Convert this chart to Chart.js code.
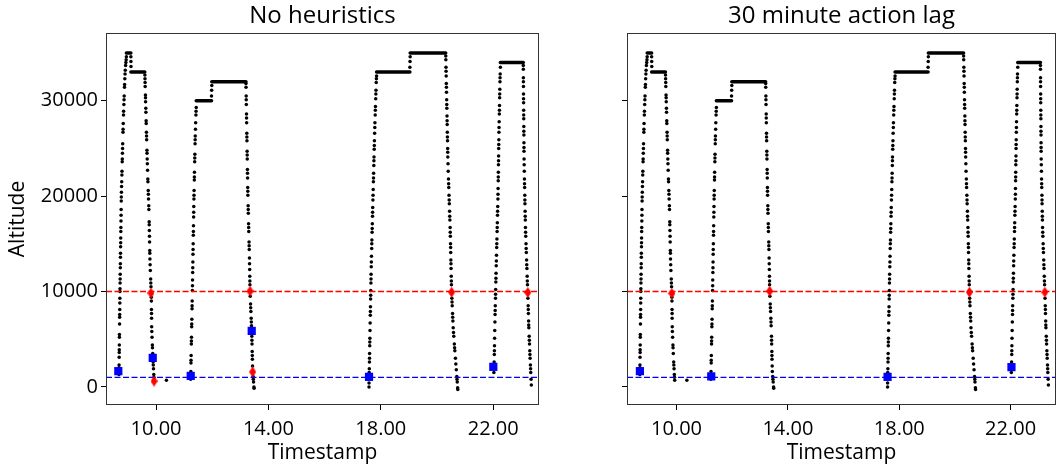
<!DOCTYPE html>
<html>
<head>
<meta charset="utf-8">
<script src="https://cdn.jsdelivr.net/npm/chart.js@4.4.0/dist/chart.umd.min.js"></script>
<style>
  body { margin: 0; background: #fff; }
  #left_chart { position: absolute; left: 0; top: 0; }
  #right_chart { position: absolute; left: 560px; top: 0; }
</style>
</head>
<body>
<canvas id="left_chart" width="545" height="469"></canvas>
<canvas id="right_chart" width="502" height="469"></canvas>
<script>
// flight track samples: [hour of day, altitude]
var climb1 = [[8.680,1300],[8.682,1500],[8.683,1700],[8.684,2000],[8.685,2300],[8.689,3100],[8.691,3600],[8.692,3900],[8.694,4400],[8.697,5200],[8.698,5500],[8.703,6600],[8.706,7300],[8.707,7600],[8.709,8100],[8.712,8800],[8.714,9300],[8.717,10000],[8.718,10300],[8.721,10900],[8.723,11300],[8.725,11800],[8.729,12500],[8.731,12900],[8.734,13600],[8.736,14000],[8.740,14700],[8.742,15100],[8.744,15600],[8.747,16300],[8.749,16700],[8.753,17400],[8.756,18000],[8.758,18600],[8.763,19500],[8.765,19900],[8.769,20400],[8.774,21000],[8.779,21500],[8.785,22200],[8.789,22600],[8.797,23600],[8.800,23900],[8.805,24500],[8.810,25000],[8.814,25500],[8.825,26700],[8.828,27000],[8.833,27600],[8.843,28500],[8.847,28900],[8.856,29600],[8.862,30100],[8.867,30500],[8.878,31400],[8.882,31700],[8.890,32300],[8.898,32800],[8.906,33200],[8.917,33700],[8.928,34000],[8.937,34300],[8.945,34600]];
var descent1 = [[9.604,32700],[9.607,32300],[9.611,31900],[9.614,31500],[9.623,30600],[9.626,30300],[9.629,29900],[9.636,29200],[9.640,28800],[9.648,27900],[9.651,27600],[9.659,26700],[9.663,26300],[9.667,25900],[9.677,24800],[9.680,24500],[9.686,23900],[9.691,23400],[9.699,22700],[9.709,21800],[9.712,21500],[9.723,20600],[9.728,20200],[9.733,19700],[9.742,19000],[9.746,18600],[9.756,17300],[9.758,17000],[9.763,16400],[9.767,15800],[9.771,15200],[9.777,14300],[9.779,14000],[9.783,13400],[9.790,12800],[9.797,12200],[9.810,11300],[9.815,10900],[9.821,10500],[9.830,9800],[9.832,9400],[9.834,9000],[9.838,8100],[9.840,7700],[9.842,7200],[9.845,6300],[9.850,5800],[9.858,5200],[9.870,4400],[9.874,4100],[9.883,3500],[9.897,2600],[9.902,2300],[9.910,1900],[9.921,1300],[9.925,1000],[9.934,700]];
var climb2 = [[11.233,800],[11.235,1200],[11.238,1600],[11.244,2500],[11.246,2800],[11.250,3300],[11.257,4500],[11.259,4800],[11.262,5200],[11.269,6300],[11.271,6600],[11.275,7100],[11.282,8200],[11.284,8500],[11.287,9000],[11.294,10100],[11.297,10600],[11.300,11200],[11.305,12000],[11.308,12500],[11.311,13100],[11.315,13900],[11.318,14400],[11.322,15000],[11.327,15900],[11.330,16300],[11.333,16900],[11.338,17800],[11.341,18300],[11.344,18900],[11.349,19700],[11.352,20100],[11.355,20600],[11.363,21700],[11.365,22000],[11.368,22500],[11.376,23600],[11.379,24000],[11.382,24400],[11.390,25500],[11.393,25900],[11.396,26300],[11.404,27000],[11.410,27700],[11.420,28500],[11.425,28900],[11.431,29300]];
var descent2 = [[13.201,31800],[13.203,31400],[13.209,30500],[13.211,30100],[13.214,29600],[13.220,28600],[13.222,28200],[13.225,27700],[13.231,26600],[13.233,26200],[13.236,25800],[13.242,24700],[13.244,24300],[13.247,23900],[13.253,22800],[13.256,22400],[13.259,21900],[13.264,20900],[13.266,20500],[13.269,20100],[13.278,19000],[13.281,18600],[13.285,18200],[13.294,17100],[13.297,16700],[13.301,16300],[13.311,15200],[13.314,14800],[13.318,14400],[13.325,13500],[13.329,12900],[13.333,12300],[13.337,11600],[13.340,11100],[13.342,10700],[13.348,10000],[13.353,9500],[13.365,8700],[13.370,8300],[13.377,7900],[13.387,7200],[13.392,6800],[13.398,6400],[13.410,5300],[13.413,4900],[13.417,4500],[13.423,3700],[13.426,3300],[13.429,2900],[13.435,2200],[13.440,1600],[13.454,1100],[13.462,800],[13.471,500],[13.485,0],[13.490,-140]];
var climb3 = [[17.580,0],[17.581,400],[17.582,1000],[17.586,1500],[17.591,1900],[17.596,2600],[17.598,3000],[17.601,3500],[17.606,4300],[17.608,4700],[17.611,5100],[17.616,5900],[17.621,6700],[17.626,7500],[17.629,7900],[17.632,8400],[17.637,9200],[17.640,9600],[17.643,10100],[17.648,10900],[17.651,11300],[17.654,11800],[17.660,12600],[17.664,13100],[17.668,13700],[17.675,14500],[17.679,15000],[17.683,15400],[17.690,16200],[17.694,16600],[17.698,17100],[17.705,17900],[17.708,18300],[17.712,18800],[17.719,19600],[17.724,20100],[17.729,20700],[17.736,21500],[17.740,21900],[17.744,22400],[17.751,23200],[17.755,23700],[17.758,24100],[17.765,24900],[17.769,25300],[17.773,25800],[17.780,26600],[17.786,27200],[17.791,27700],[17.800,28500],[17.805,29000],[17.810,29400],[17.819,30200],[17.824,30700],[17.828,31100],[17.837,31900],[17.843,32300],[17.850,32600]];
var descent3 = [[20.312,34700],[20.315,34300],[20.320,33500],[20.323,33100],[20.327,32600],[20.332,31800],[20.335,31400],[20.338,30900],[20.344,30100],[20.347,29600],[20.350,29200],[20.356,28400],[20.359,27900],[20.362,27500],[20.367,26700],[20.371,26200],[20.374,25800],[20.379,25000],[20.382,24600],[20.385,24100],[20.392,23400],[20.399,22600],[20.409,21800],[20.414,21300],[20.419,20900],[20.428,20100],[20.433,19600],[20.438,19200],[20.448,18400],[20.453,17900],[20.458,17500],[20.467,16700],[20.471,16200],[20.475,15800],[20.481,15000],[20.485,14600],[20.488,14100],[20.494,13300],[20.497,12900],[20.501,12400],[20.507,11600],[20.511,11100],[20.514,10700],[20.529,9300],[20.535,8900],[20.541,8500],[20.553,7700],[20.559,7300],[20.566,6900],[20.576,6200],[20.587,5700],[20.597,5300],[20.617,4500],[20.626,4100],[20.635,3800],[20.656,3000],[20.670,2400],[20.687,1800],[20.705,1100],[20.712,800],[20.720,500],[20.735,-100],[20.740,-270]];
var climb4 = [[22.025,1500],[22.030,2100],[22.034,2600],[22.040,3400],[22.043,3800],[22.046,4300],[22.050,5100],[22.055,5900],[22.061,6800],[22.067,7600],[22.070,8000],[22.074,8500],[22.081,9300],[22.084,9700],[22.088,10200],[22.094,11000],[22.097,11400],[22.101,11900],[22.108,12700],[22.112,13200],[22.117,13800],[22.124,14600],[22.128,15000],[22.132,15500],[22.139,16300],[22.143,16700],[22.147,17200],[22.153,18000],[22.157,18400],[22.161,18900],[22.168,19700],[22.171,20200],[22.174,20800],[22.179,21600],[22.181,22000],[22.183,22500],[22.187,23300],[22.190,23700],[22.192,24200],[22.196,25000],[22.198,25400],[22.201,25900],[22.205,26700],[22.208,27200],[22.212,27800],[22.218,28600],[22.221,29000],[22.224,29500],[22.229,30300],[22.232,30700],[22.235,31200],[22.241,32000],[22.244,32400],[22.248,32800],[22.256,33500]];
var descent4 = [[23.071,33700],[23.072,33300],[23.074,32400],[23.075,32000],[23.077,31500],[23.079,30700],[23.080,30200],[23.082,29800],[23.084,29000],[23.085,28500],[23.087,28100],[23.089,27300],[23.090,26800],[23.092,26400],[23.094,25600],[23.095,25100],[23.096,24700],[23.099,23900],[23.102,23300],[23.106,22600],[23.112,21800],[23.115,21300],[23.118,20900],[23.124,20100],[23.127,19600],[23.130,19200],[23.136,18400],[23.139,17900],[23.142,17500],[23.148,16700],[23.153,16200],[23.158,15800],[23.168,15000],[23.173,14500],[23.179,14100],[23.189,13300],[23.194,12800],[23.200,12400],[23.209,11600],[23.214,11100],[23.220,10700],[23.228,10000],[23.236,9300],[23.244,8500],[23.248,8100],[23.252,7700],[23.260,6900],[23.264,6500],[23.268,6200],[23.280,5300],[23.286,4900],[23.292,4500],[23.302,3800],[23.308,3400],[23.314,3000],[23.325,2300],[23.331,1900],[23.337,1500],[23.348,800],[23.357,200]];
// level changes during cruise, plus a lone ground sample
var steps = [[9.105,34600],[9.108,34100],[9.110,33600],[11.975,30500],[11.980,31100],[11.985,31600],[19.035,33500],[19.040,34100],[19.045,34600],[10.37,700]];
// cruise levels: [start hour, end hour, altitude]
var levels = [[8.945,9.105,35000],[9.105,9.600,33000],[11.431,11.975,30000],[11.985,13.200,32000],[17.850,19.035,33000],[19.045,20.310,35000],[22.256,23.070,34000]];

// detected events
var leftDiamonds = [[9.82,9830],[9.93,600],[13.345,10040],[13.44,1570],[20.52,9930],[23.23,9900]];
var leftSquares = [[8.658,1650],[9.883,3040],[11.235,1150],[13.406,5870],[17.58,1050],[22.004,2100]];
var rightDiamonds = [[9.83,9800],[13.345,10040],[20.52,9930],[23.23,9930]];
var rightSquares = [[8.683,1650],[11.246,1100],[17.58,1050],[22.03,2070]];

var upperThreshold = 10000;
var lowerThreshold = 1000;
var hourTicks = [10, 14, 18, 22];
var altTicks = [0, 10000, 20000, 30000];
var hourRange = [8.22, 23.63];
var altRange = [-1900, 37100];

Chart.defaults.font.family = '"Open Sans", sans-serif';
Chart.defaults.color = '#000';

function toXY(list) {
  return list.map(function (p) { return { x: p[0], y: p[1] }; });
}

function thinDiamond(color) {
  var c = document.createElement('canvas');
  c.width = 7; c.height = 11;
  var g = c.getContext('2d');
  g.fillStyle = color;
  g.beginPath();
  g.moveTo(3.5, 0); g.lineTo(7, 5.5); g.lineTo(3.5, 11); g.lineTo(0, 5.5);
  g.closePath();
  g.fill();
  return c;
}
var redDiamond = thinDiamond('#ff0000');

// matplotlib-like box around the plot area
var framePlugin = {
  id: 'frame',
  afterDatasetsDraw: function (chart) {
    var a = chart.chartArea, ctx = chart.ctx;
    ctx.save();
    ctx.strokeStyle = '#333';
    ctx.lineWidth = 1;
    ctx.strokeRect(Math.round(a.left) + 0.5, Math.round(a.top) + 0.5,
      Math.round(a.right - a.left) - 1, Math.round(a.bottom - a.top) - 1);
    ctx.restore();
  }
};

function trackDatasets() {
  var sets = [];
  [climb1, descent1, climb2, descent2, climb3, descent3, climb4, descent4, steps].forEach(function (seg) {
    sets.push({
      data: toXY(seg), showLine: false,
      pointRadius: 1.75, pointBorderWidth: 0,
      pointBackgroundColor: '#000', order: 5
    });
  });
  levels.forEach(function (lv) {
    sets.push({
      data: [{ x: lv[0], y: lv[2] }, { x: lv[1], y: lv[2] }],
      showLine: true, borderColor: '#000', borderWidth: 3.5,
      borderCapStyle: 'round', pointRadius: 0, order: 5
    });
  });
  return sets;
}

function thresholdDataset(alt, color) {
  return {
    data: [{ x: hourRange[0], y: alt }, { x: hourRange[1], y: alt }],
    showLine: true, borderColor: color, backgroundColor: color, borderWidth: 1.3,
    borderDash: [6, 2.5], pointRadius: 0, order: 3
  };
}

function buildChart(canvasId, title, diamonds, squares, showYLabels, yAxisWidth, padRight) {
  var datasets = trackDatasets();
  datasets.push(thresholdDataset(upperThreshold, '#ff0000'));
  datasets.push(thresholdDataset(lowerThreshold, '#0000ff'));
  datasets.push({
    data: toXY(diamonds), showLine: false,
    pointStyle: redDiamond, pointRadius: 5, order: 1
  });
  datasets.push({
    data: toXY(squares), showLine: false,
    pointStyle: 'rect', pointRadius: 5.8, pointBorderWidth: 0,
    pointBackgroundColor: '#0000ff', order: 1
  });

  return new Chart(document.getElementById(canvasId), {
    type: 'scatter',
    data: { datasets: datasets },
    plugins: [framePlugin],
    options: {
      responsive: false,
      animation: false,
      devicePixelRatio: 1,
      layout: { padding: { left: 0, right: padRight, top: 0, bottom: 0 } },
      plugins: {
        legend: { display: false },
        tooltip: { enabled: false },
        title: {
          display: true, text: title, fullSize: false,
          font: { size: 24, weight: 'normal' }, color: '#000',
          padding: { top: 2, bottom: 2.2 }
        }
      },
      scales: {
        x: {
          type: 'linear', position: 'bottom',
          min: hourRange[0], max: hourRange[1],
          afterBuildTicks: function (scale) { scale.ticks = hourTicks.map(function (v) { return { value: v }; }); },
          afterFit: function (scale) { scale.height = 64; },
          grid: { drawOnChartArea: false, drawTicks: true, tickLength: 5, color: '#000' },
          border: { display: false },
          ticks: {
            autoSkip: false, maxRotation: 0, padding: 7,
            font: { size: 20 }, color: '#000',
            callback: function (v) { return Number(v).toFixed(2); }
          },
          title: { display: true, text: 'Timestamp', font: { size: 21 }, color: '#000', padding: { top: 0, bottom: 3 } }
        },
        y: {
          type: 'linear', position: 'left',
          min: altRange[0], max: altRange[1],
          afterBuildTicks: function (scale) { scale.ticks = altTicks.map(function (v) { return { value: v }; }); },
          afterFit: function (scale) { scale.width = yAxisWidth; },
          grid: { drawOnChartArea: false, drawTicks: true, tickLength: 5, color: '#000' },
          border: { display: false },
          ticks: {
            autoSkip: false, padding: 3,
            font: { size: 20 }, color: '#000',
            callback: function (v) { return showYLabels ? String(v) : ''; }
          },
          title: { display: showYLabels, text: 'Altitude', font: { size: 21 }, color: '#000', padding: { top: 5, bottom: 0 } }
        }
      }
    }
  });
}

buildChart('left_chart', 'No heuristics', leftDiamonds, leftSquares, true, 106, 6);
buildChart('right_chart', '30 minute action lag', rightDiamonds, rightSquares, false, 67, 2);
</script>
</body>
</html>
